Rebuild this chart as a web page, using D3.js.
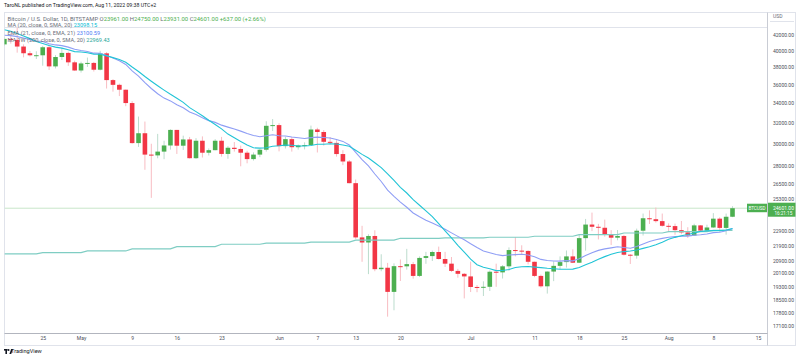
<!DOCTYPE html>
<html>
<head>
<meta charset="utf-8">
<script src="https://cdn.jsdelivr.net/npm/d3@7"></script>
<style>
  body { margin: 0; background: #fff; }
  svg text { font-family: Roboto, "DejaVu Sans", sans-serif; }
</style>
</head>
<body>
<div id="canvas"></div>
<script>
(function(){

    // daily bars BTCUSD (Bitstamp), first bar 2022-04-19
    var firstDay = "2022-04-19";

    var opens = [40800,41500,41370,40530,39700,39450,39450,40440,38120,39240,
                 39740,38600,37640,38470,38530,37730,39690,36540,36010,35470,
                 34040,30080,31010,29030,28960,29300,29860,31330,29840,30420,
                 28710,30300,29200,29430,30300,29090,29650,29540,29200,28630,
                 29030,29470,31730,31800,29800,30450,29700,29860,29900,31370,
                 31130,30200,30100,29080,28420,26580,22480,22130,22580,20380,
                 20470,19000,20570,20560,20700,19960,21100,21220,21490,21030,
                 20730,20270,20090,19930,19290,19260,19300,20220,20180,20560,
                 21620,21580,21560,20850,19960,19330,20230,20590,20830,21200,
                 20790,22430,23390,23230,23160,22690,22460,22580,21310,21250,
                 22950,23850,23780,23640,23300,23280,22990,22830,22610,23330,
                 22960,23180,23820,23150,23961];

    var highs = [41750,42200,42970,40800,39980,39940,40620,40800,39470,40370,
                 39900,38800,38680,39170,38650,40000,39840,36650,36140,35490,
                 34240,32650,32150,30020,30950,30300,31390,31330,30780,30660,
                 30540,30710,29590,30450,30660,29800,30180,29850,29380,29230,
                 29560,32180,32400,31980,30680,30650,29950,30150,31750,31540,
                 31320,30650,30350,29430,28540,26880,23300,22700,22980,21340,
                 20780,20750,21000,21700,20840,21200,21500,21580,21850,21500,
                 21160,20400,20140,20860,19400,19630,20300,20730,20640,21800,
                 22500,21940,21600,20860,20040,20250,20880,21200,21590,21670,
                 22700,23800,24270,23440,23750,22990,23000,22660,21350,23100,
                 24200,24440,24650,24200,23480,23460,23650,23200,23450,23350,
                 23380,24230,23920,24200,24750];

    var lows = [40600,40900,39770,39200,39300,39000,38200,37700,37880,38880,
                38180,37600,37400,38060,37520,37650,35600,35260,34780,33710,
                30030,29730,27700,25400,28700,28620,29480,29090,29450,28680,
                28650,28770,28950,29420,28850,28660,29300,28000,28260,28500,
                28800,29300,31220,29320,29580,29300,29480,29500,29890,29220,
                29850,29950,28850,28100,26560,22380,20850,20070,20250,20250,
                17600,17950,19650,20350,19790,19890,20720,20900,21000,20520,
                20200,19850,18620,18990,18980,18760,19050,19300,19800,20280,
                21200,21340,20680,19880,19250,18900,19640,20380,20480,20770,
                20770,21580,22920,22340,22530,21960,22280,21260,20710,21050,
                22610,23430,23530,23240,22850,22660,22700,22440,22600,22930,
                22880,23150,22880,22670,23931];

    var closes = [41500,41370,40530,39700,39450,39460,40440,38120,39240,39740,
                  38600,37640,38470,38530,37730,39690,36540,36010,35470,34040,
                  30080,31010,29030,28960,29300,29860,31330,29840,30420,28710,
                  30300,29200,29430,30300,29090,29650,29540,29200,28630,29030,
                  29470,31730,31800,29800,30450,29700,29860,29900,31370,31130,
                  30200,30100,29080,28420,26580,22480,22130,22580,20380,20470,
                  19000,20570,20560,20700,19960,21100,21220,21490,21030,20730,
                  20270,20090,19930,19290,19260,19300,20220,20180,20560,21620,
                  21580,21560,20850,19960,19330,20230,20590,20830,21200,20790,
                  22430,23390,23230,23160,22690,22460,22580,21310,21250,22950,
                  23850,23780,23640,23300,23280,22990,22830,22610,23330,22960,
                  23180,23820,23150,23961,24601];

    // MA (20) SMA, per bar
    var ma20 = [42686,42478,42189,41882,41532,41175,40922,40668,40457,40331,
                40123,39897,39844,39766,39595,39583,39382,39163,38951,38613,
                38042,37524,36945,36411,35904,35424,34969,34555,34114,33562,
                33147,32725,32273,31862,31430,30928,30578,30237,29895,29645,
                29614,29650,29793,29832,29889,29881,29808,29811,29858,29979,
                29974,30019,30002,29908,29782,29424,29053,28722,28310,27882,
                27358,26800,26238,25783,25259,24829,24397,23976,23459,22939,
                22443,21942,21485,21028,20662,20503,20408,20288,20297,20354,
                20483,20533,20547,20510,20479,20435,20404,20371,20379,20382,
                20490,20655,20820,21014,21185,21343,21461,21518,21552,21619,
                21732,21843,21983,22150,22347,22485,22597,22686,22793,22901,
                22939,22960,22956,22996,23098];

    // EMA (21), per bar
    var ema21 = [41976,41921,41794,41604,41408,41230,41158,40882,40733,40643,
                 40457,40201,40044,39906,39708,39706,39418,39108,38777,38346,
                 37595,36996,36264,35606,35033,34563,34269,33866,33553,33113,
                 32857,32525,32243,32067,31796,31601,31414,31212,30977,30800,
                 30679,30775,30868,30771,30742,30647,30576,30514,30592,30641,
                 30601,30555,30421,30239,29906,29231,28586,28040,27343,26718,
                 26017,25521,25070,24673,24245,23959,23710,23508,23283,23051,
                 22798,22552,22313,22039,21786,21560,21438,21324,21254,21288,
                 21314,21337,21292,21171,21004,20933,20902,20896,20923,20911,
                 21049,21262,21441,21597,21697,21766,21840,21792,21743,21853,
                 22034,22193,22324,22413,22492,22537,22564,22568,22637,22667,
                 22713,22814,22844,22946,23101];

    // weekly MA (200), one value per week
    var weekStarts = ["2022-04-18","2022-04-25","2022-05-02","2022-05-09","2022-05-16",
                      "2022-05-23","2022-05-30","2022-06-06","2022-06-13","2022-06-20",
                      "2022-06-27","2022-07-04","2022-07-11","2022-07-18","2022-07-25",
                      "2022-08-01","2022-08-08"];
    var ma200w = [21370,21450,21560,21700,21850,22010,22085,22160,22290,22420,
                  22450,22490,22560,22680,22790,22880,22969];

    var timeTicks = ["2022-04-25","2022-05-01","2022-05-09","2022-05-16","2022-05-23",
                     "2022-06-01","2022-06-07","2022-06-13","2022-06-20","2022-07-01",
                     "2022-07-11","2022-07-18","2022-07-25","2022-08-01","2022-08-08",
                     "2022-08-15"];
    var timeLabels = ["25","May","9","16","23","Jun","7","13","20","Jul","11","18","25","Aug","8","15"];

    var priceTicks = [42000,40000,38000,36000,34000,32000,30000,28000,26500,25300,
                      22900,21900,20900,20100,19300,18500,17800,17100];

    var lastPrice = 24601;

    var W = 800, H = 361;
    var left = 4.5, right = 767.5, top = 12.5, bottom = 333.5;

    var upColor = "#4caf50", downColor = "#f23645";
    var upWick = "#bcdccd", downWick = "#f8bcc2";

    var canvas = d3.select("#canvas")
                .append("svg")
                .attr("width",W)
                .attr("height",H);

    canvas.append("rect").attr("width",W).attr("height",H).attr("fill","#fff");

    var parse = d3.utcParse("%Y-%m-%d");
    var day0 = parse(firstDay);
    var bars = closes.map(function(c,i){
        return {date: d3.utcDay.offset(day0,i), o: opens[i], h: highs[i], l: lows[i], c: c};
    });

    var x = d3.scaleUtc()
              .domain([bars[0].date, bars[bars.length-1].date])
              .range([4.4, 732.5]);
    var y = d3.scaleLog()
              .domain([17100,42000])
              .range([326,35]);

    var step = x(d3.utcDay.offset(day0,1)) - x(day0);
    var bodyW = step * 0.72;

    // frame
    canvas.append("rect")
          .attr("x",left).attr("y",top)
          .attr("width",795.5-left).attr("height",345.5-top)
          .attr("fill","none").attr("stroke","#e0e3eb");
    canvas.append("line")
          .attr("x1",left).attr("x2",right).attr("y1",27.5).attr("y2",27.5)
          .attr("stroke","#e0e3eb");

    var defs = canvas.append("defs");
    defs.append("clipPath").attr("id","pane")
        .append("rect").attr("x",left).attr("y",top).attr("width",right-left).attr("height",bottom-top);

    var pane = canvas.append("g").attr("clip-path","url(#pane)");

    // last price line
    pane.append("line")
        .attr("x1",left).attr("x2",right)
        .attr("y1",y(lastPrice)).attr("y2",y(lastPrice))
        .attr("stroke","#c8e6c9").attr("stroke-width",1);

    // candles
    for (var b of bars){
        var up = b.c >= b.o;
        var cx = x(b.date);
        pane.append("line")
            .attr("x1",cx).attr("x2",cx)
            .attr("y1",y(b.h)).attr("y2",y(b.l))
            .attr("stroke", up ? upWick : downWick)
            .attr("stroke-width",1);
        var y0 = y(Math.max(b.o,b.c)), y1 = y(Math.min(b.o,b.c));
        pane.append("rect")
            .attr("x",cx - bodyW/2)
            .attr("y",y0)
            .attr("width",bodyW)
            .attr("height",Math.max(1,y1-y0))
            .attr("fill", up ? upColor : downColor);
    }

    // weekly MA 200 line (value of the running week on each bar)
    var weekDates = weekStarts.map(parse);
    var bis = d3.bisector(function(d){ return d; }).right;
    var ma200Pts = bars.map(function(b){
        var k = bis(weekDates,b.date) - 1;
        return [x(b.date), y(ma200w[k])];
    });

    var line = d3.line();

    pane.append("path")
        .attr("d",line(ma200Pts))
        .attr("fill","none")
        .attr("stroke","#7fcdc3")
        .attr("stroke-width",1.2);

    pane.append("path")
        .attr("d",line(bars.map(function(b,i){ return [x(b.date), y(ema21[i])]; })))
        .attr("fill","none")
        .attr("stroke","#8f9ef5")
        .attr("stroke-width",1.1);

    pane.append("path")
        .attr("d",line(bars.map(function(b,i){ return [x(b.date), y(ma20[i])]; })))
        .attr("fill","none")
        .attr("stroke","#22c4d6")
        .attr("stroke-width",1.1);

    // price axis
    canvas.append("line")
          .attr("x1",767.5).attr("x2",767.5).attr("y1",top).attr("y2",345.5)
          .attr("stroke","#c9ccd4");
    canvas.append("text").attr("x",773).attr("y",16).attr("dy","0.35em")
          .attr("font-size",5).attr("fill","#6a6d78").text("USD");
    canvas.append("line")
          .attr("x1",770).attr("x2",794).attr("y1",21.5).attr("y2",21.5)
          .attr("stroke","#e0e3eb");

    var fmt = d3.format(".2f");
    for (var p of priceTicks){
        canvas.append("text")
              .attr("x",773).attr("y",y(p)).attr("dy","0.35em")
              .attr("font-size",5).attr("fill","#4a4d57")
              .text(fmt(p));
    }

    // last price labels
    var ly = y(lastPrice);
    canvas.append("rect").attr("x",768).attr("y",ly-5.5).attr("width",27.5).attr("height",14)
          .attr("fill",upColor);
    canvas.append("text").attr("x",773).attr("y",ly).attr("dy","0.35em")
          .attr("font-size",5).attr("fill","#fff").text(fmt(lastPrice));
    canvas.append("text").attr("x",774.5).attr("y",ly+5.5).attr("dy","0.35em")
          .attr("font-size",4.6).attr("fill","#fff").text("16:21:15");
    canvas.append("rect").attr("x",747).attr("y",ly-4.5).attr("width",20).attr("height",8.5)
          .attr("fill",upColor);
    canvas.append("text").attr("x",757).attr("y",ly-0.3).attr("dy","0.35em")
          .attr("text-anchor","middle")
          .attr("font-size",4.6).attr("fill","#fff").text("BTCUSD");

    // time axis
    canvas.append("line")
          .attr("x1",left).attr("x2",right).attr("y1",bottom).attr("y2",bottom)
          .attr("stroke","#b2b5be").attr("stroke-width",1.2);

    var xAxis = d3.axisBottom(x)
                  .tickValues(timeTicks.map(parse))
                  .tickFormat(function(d,i){ return timeLabels[i]; })
                  .tickSize(0)
                  .tickPadding(0);
    var ax = canvas.append("g").attr("transform","translate(0,336)").call(xAxis);
    ax.select(".domain").remove();
    ax.selectAll("text")
      .attr("font-size",5)
      .attr("font-family","Roboto, sans-serif")
      .attr("fill","#4a4d57")
      .attr("dy","0.71em");

    // header + legend
    canvas.append("text").attr("x",4).attr("y",5.5).attr("dy","0.35em")
          .attr("font-size",5.2).attr("fill","#131722")
          .text("TaroNL published on TradingView.com, Aug 11, 2022 09:38 UTC+2");

    var gray = "#6a6d78", green = "#4caf50";
    var row1 = canvas.append("text").attr("x",7.5).attr("y",18.5).attr("dy","0.35em")
                     .attr("font-size",5.9).attr("fill",gray);
    row1.append("tspan").text("Bitcoin / U.S. Dollar, 1D, BITSTAMP ");
    var ohlc = [["O","23961.00"],["H","24750.00"],["L","23931.00"],["C","24601.00"]];
    for (var o of ohlc){
        row1.append("tspan").attr("fill",gray).text(o[0]);
        row1.append("tspan").attr("fill",green).text(o[1] + " ");
    }
    row1.append("tspan").attr("fill",green).text("+637.00 (+2.66%)");

    var legend = [
        {label:"MA (20, close, 0, SMA, 20)", value:"23098.15", color:"#00bcd4", y:25.5},
        {label:"EMA (21, close, 0, EMA, 21)", value:"23100.59", color:"#4d7cf5", y:33},
        {label:"MA 1W (200, close, 0, SMA, 20)", value:"22969.43", color:"#26a69a", y:40.5}
    ];
    for (var l of legend){
        var t = canvas.append("text").attr("x",7.5).attr("y",l.y).attr("dy","0.35em")
                      .attr("font-size",5.6).attr("fill",gray);
        t.append("tspan").text(l.label + " ");
        t.append("tspan").attr("fill",l.color).text(l.value);
    }

    // footer logo
    var logo = canvas.append("g").attr("transform","translate(4,349)");
    logo.append("rect").attr("x",0).attr("y",0).attr("width",3.6).attr("height",1.6).attr("fill","#131722");
    logo.append("rect").attr("x",1.4).attr("y",0).attr("width",1.6).attr("height",5).attr("fill","#131722");
    logo.append("circle").attr("cx",4.6).attr("cy",1).attr("r",0.9).attr("fill","#131722");
    logo.append("path").attr("d","M5.4,5 L7.2,0 L9,0 L7.2,5 Z").attr("fill","#131722");
    canvas.append("text").attr("x",11).attr("y",351.5).attr("dy","0.35em")
          .attr("font-size",5.6).attr("fill","#131722").text("TradingView");

})();
</script>
</body>
</html>
